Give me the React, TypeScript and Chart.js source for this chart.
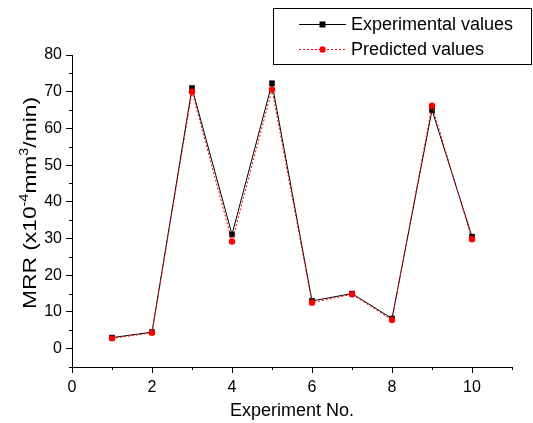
import React, { useEffect, useRef } from 'react';
import { Chart, registerables } from 'chart.js';

Chart.register(...registerables);

const experimentNo = [1, 2, 3, 4, 5, 6, 7, 8, 9, 10];
const experimentalValues = [3.0, 4.5, 71.0, 31.1, 72.3, 13.0, 15.0, 8.2, 65.0, 30.5];
const predictedValues = [2.8, 4.3, 70.0, 29.2, 70.6, 12.5, 14.8, 7.8, 66.2, 29.8];
const seriesLabels = ['Experimental values', 'Predicted values'];
const xMajorTicks = [0, 2, 4, 6, 8, 10];
const xMinorTicks = [1, 3, 5, 7, 9, 11];
const yMajorTicks = [0, 10, 20, 30, 40, 50, 60, 70, 80];
const yMinorTicks = [-5, 5, 15, 25, 35, 45, 55, 65, 75];
const xTitle = 'Experiment No.';
const yTitleParts = [
  { t: 'MRR (x10', sup: false },
  { t: '-4', sup: true },
  { t: 'mm', sup: false },
  { t: '3', sup: true },
  { t: '/min)', sup: false },
];

const FONT = 'Arial, "Liberation Sans", sans-serif';

const customPlugin = {
  id: 'custom',
  afterDraw(chart: any) {
    const ctx = chart.ctx;
    const xs = chart.scales.x;
    const ys = chart.scales.y;
    const area = chart.chartArea;
    ctx.save();
    ctx.strokeStyle = '#000';
    ctx.lineWidth = 1;
    // minor ticks
    ctx.beginPath();
    xMinorTicks.forEach((v) => {
      const px = Math.round(xs.getPixelForValue(v)) + 0.5;
      ctx.moveTo(px, area.bottom);
      ctx.lineTo(px, area.bottom + 3);
    });
    yMinorTicks.forEach((v) => {
      const py = Math.round(ys.getPixelForValue(v)) + 0.5;
      ctx.moveTo(area.left, py);
      ctx.lineTo(area.left - 3, py);
    });
    ctx.stroke();

    // x title
    ctx.fillStyle = '#000';
    ctx.font = `18px ${FONT}`;
    ctx.textAlign = 'center';
    ctx.textBaseline = 'middle';
    ctx.fillText(xTitle, (area.left + area.right) / 2, 411);

    // y title with superscripts
    ctx.save();
    const cy = (area.top + area.bottom) / 2 - 8;
    ctx.translate(23, cy);
    ctx.rotate(-Math.PI / 2);
    ctx.scale(1.2, 1);
    ctx.textAlign = 'left';
    ctx.textBaseline = 'alphabetic';
    const normalFont = `19px ${FONT}`;
    const supFont = `12px ${FONT}`;
    let total = 0;
    yTitleParts.forEach((p) => {
      ctx.font = p.sup ? supFont : normalFont;
      total += ctx.measureText(p.t).width;
    });
    let x = -total / 2;
    const base = 13;
    yTitleParts.forEach((p) => {
      ctx.font = p.sup ? supFont : normalFont;
      ctx.fillText(p.t, x, p.sup ? base - 8 : base);
      x += ctx.measureText(p.t).width;
    });
    ctx.restore();

    // legend
    ctx.strokeStyle = '#000';
    ctx.lineWidth = 1;
    ctx.strokeRect(273.5, 8.5, 258, 56);
    const rows = [
      { y: 24.5, color: '#000', dash: [], style: 'rect' },
      { y: 49.5, color: '#ff0000', dash: [2, 2], style: 'circle' },
    ];
    rows.forEach((r, i) => {
      ctx.save();
      ctx.strokeStyle = r.color;
      ctx.setLineDash(r.dash);
      ctx.beginPath();
      ctx.moveTo(299, r.y);
      ctx.lineTo(346, r.y);
      ctx.stroke();
      ctx.restore();
      ctx.fillStyle = r.color;
      if (r.style === 'rect') {
        ctx.fillRect(319.5, r.y - 3, 6, 6);
      } else {
        ctx.beginPath();
        ctx.arc(322.5, r.y, 3.2, 0, Math.PI * 2);
        ctx.fill();
      }
      ctx.fillStyle = '#000';
      ctx.font = `18px ${FONT}`;
      ctx.textAlign = 'left';
      ctx.textBaseline = 'middle';
      ctx.fillText(seriesLabels[i], 351, r.y + 1);
    });
    ctx.restore();
  },
};

export default function App() {
  const ref = useRef<HTMLCanvasElement>(null);
  useEffect(() => {
    if (!ref.current) return;
    const chart = new Chart(ref.current, {
      type: 'line',
      data: {
        datasets: [
          {
            label: seriesLabels[0],
            data: experimentNo.map((x, i) => ({ x, y: experimentalValues[i] })),
            borderColor: '#000',
            backgroundColor: '#000',
            borderWidth: 1,
            pointStyle: 'rect',
            pointRadius: 4,
            pointBorderWidth: 0,
            tension: 0,
            order: 2,
          },
          {
            label: seriesLabels[1],
            data: experimentNo.map((x, i) => ({ x, y: predictedValues[i] })),
            borderColor: '#ff0000',
            backgroundColor: '#ff0000',
            borderWidth: 1,
            borderDash: [2, 2],
            pointStyle: 'circle',
            pointRadius: 3.2,
            pointBorderWidth: 0,
            tension: 0,
            order: 1,
          },
        ],
      },
      options: {
        responsive: false,
        animation: false,
        devicePixelRatio: 1,
        layout: { padding: { top: 55, right: 21, bottom: 0, left: 0 } },
        plugins: { legend: { display: false }, tooltip: { enabled: false } },
        scales: {
          x: {
            type: 'linear',
            min: 0,
            max: 11,
            afterBuildTicks: (s: any) => {
              s.ticks = xMajorTicks.map((v) => ({ value: v }));
            },
            afterFit: (s: any) => {
              s.height = 56;
            },
            grid: { display: true, drawOnChartArea: false, drawTicks: true, tickLength: 6, color: '#000' },
            border: { display: true, color: '#000', width: 1 },
            ticks: { color: '#000', font: { family: FONT, size: 16 }, padding: 5, maxRotation: 0 },
          },
          y: {
            type: 'linear',
            min: -5,
            max: 80,
            afterBuildTicks: (s: any) => {
              s.ticks = yMajorTicks.map((v) => ({ value: v }));
            },
            afterFit: (s: any) => {
              s.width = 72;
            },
            grid: { display: true, drawOnChartArea: false, drawTicks: true, tickLength: 6, color: '#000' },
            border: { display: true, color: '#000', width: 1 },
            ticks: { color: '#000', font: { family: FONT, size: 16 }, padding: 4 },
          },
        },
      },
      plugins: [customPlugin],
    });
    return () => chart.destroy();
  }, []);
  return (
    <div style={{ position: 'fixed', left: 0, top: 0, width: 533, height: 423, background: '#fff' }}>
      <canvas ref={ref} width={533} height={423} style={{ display: 'block', width: 533, height: 423 }} />
    </div>
  );
}
